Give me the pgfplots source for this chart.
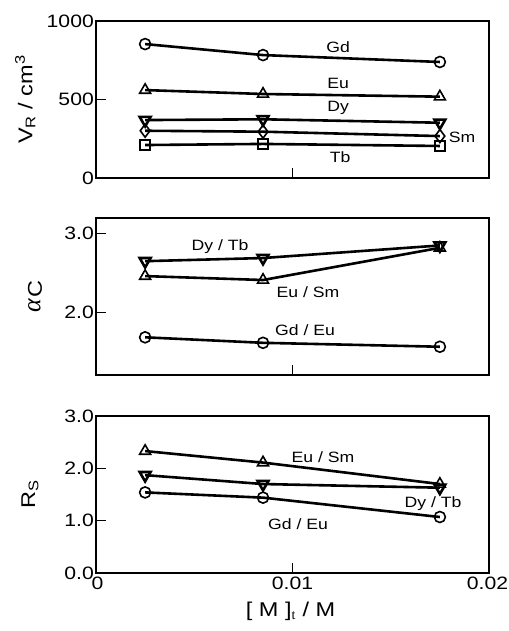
\documentclass[border=0pt]{standalone}
\usepackage{fontspec}
\setmainfont{Liberation Sans}[FakeStretch=1.18]
\newfontfamily\greekserif{Liberation Serif}
\usepackage{pgfplots}
\pgfplotsset{compat=1.18}
\newcommand{\tfont}{\fontsize{18}{18}\selectfont}
\newcommand{\lfont}{\fontsize{20}{20}\selectfont}
\pgfplotsset{
  panel/.style={
    width=393bp, height=157bp, scale only axis,
    xmin=0, xmax=0.02,
    tick align=inside, xtick pos=bottom, ytick pos=left,
    major tick length=10bp,
    axis line style={line width=1.4bp},
    every tick/.style={line width=1.4bp, black},
    yticklabel style={inner sep=2bp},
    scaled ticks=false,
    every axis plot/.append style={line width=2.6bp, black, mark options={solid, fill=white, line width=1.6bp}},
  },
}
\tikzset{lab/.style={font=\fontsize{15}{15}\selectfont, anchor=center}}
\begin{document}
\begin{tikzpicture}
\useasboundingbox (0,0) rectangle (509bp,-631bp);
% Top panel
\begin{axis}[panel, at={(96bp,-21bp)}, anchor=north west,
  ymin=0, ymax=1000, ytick={0,500,1000},
  yticklabels={\tfont 0,\tfont 500,\tfont 1000},
  xtick={0.01}, xticklabels={},
  ylabel={\lfont V\textsubscript{R} / cm\textsuperscript{3}},
  ylabel style={at={(axis description cs:-0.18,0.5)}, anchor=center},
]
\addplot[mark=o, mark size=5.5bp] coordinates {(0.0025,853) (0.0085,783) (0.0175,739)};
\addplot[mark=triangle, mark size=6.3bp] coordinates {(0.0025,560) (0.0085,535) (0.0175,518)};
\addplot[mark=triangle, mark size=6.3bp, mark options={rotate=180}] coordinates {(0.0025,369) (0.0085,374) (0.0175,352)};
\addplot[mark=diamond, mark size=6.5bp] coordinates {(0.0025,301) (0.0085,295) (0.0175,267)};
\addplot[mark=square, mark size=5bp] coordinates {(0.0025,210) (0.0085,217) (0.0175,204)};
\node[lab] at (axis cs:0.01232,834) {Gd};
\node[lab] at (axis cs:0.01232,605) {Eu};
\node[lab] at (axis cs:0.01232,446) {Dy};
\node[lab] at (axis cs:0.01863,261) {Sm};
\node[lab] at (axis cs:0.01242,134) {Tb};
\end{axis}
% Middle panel
\begin{axis}[panel, at={(96bp,-218bp)}, anchor=north west,
  ymin=1.2, ymax=3.2, ytick={2,3},
  yticklabels={\tfont 2.0,\tfont 3.0},
  xtick={0.01}, xticklabels={},
  ylabel={{\greekserif\itshape\fontsize{26}{26}\selectfont α}\,\raisebox{-0.3ex}{\lfont C}},
  ylabel style={at={(axis description cs:-0.155,0.5)}, anchor=center},
]
\addplot[mark=triangle, mark size=6.3bp, mark options={rotate=180}] coordinates {(0.0025,2.65) (0.0085,2.69) (0.0175,2.85)};
\addplot[mark=triangle, mark size=6.3bp] coordinates {(0.0025,2.46) (0.0085,2.41) (0.0175,2.82)};
\addplot[mark=o, mark size=5.5bp] coordinates {(0.0025,1.68) (0.0085,1.61) (0.0175,1.56)};
\node[lab] at (axis cs:0.00631,2.83) {Dy / Tb};
\node[lab] at (axis cs:0.01079,2.26) {Eu / Sm};
\node[lab] at (axis cs:0.01064,1.77) {Gd / Eu};
\end{axis}
% Bottom panel
\begin{axis}[panel, at={(96bp,-416bp)}, anchor=north west,
  ymin=0, ymax=3, ytick={0,1,2,3},
  yticklabels={\tfont 0.0,\tfont 1.0,\tfont 2.0,\tfont 3.0},
  xtick={0,0.01,0.02}, xticklabels={\hspace*{3bp}\tfont 0,\tfont 0.01,\tfont 0.02\hspace*{3bp}},
  ylabel={\lfont R\textsubscript{S}},
  ylabel style={at={(axis description cs:-0.168,0.5)}, anchor=center},
  xlabel={\lfont [ M ]\textsubscript{\greekserif t} / M},
  xlabel style={at={(axis description cs:0.495,-0.244)}, anchor=center},
]
\addplot[mark=triangle, mark size=6.3bp] coordinates {(0.0025,2.33) (0.0085,2.11) (0.0175,1.70)};
\addplot[mark=triangle, mark size=6.3bp, mark options={rotate=180}] coordinates {(0.0025,1.87) (0.0085,1.70) (0.0175,1.63)};
\addplot[mark=o, mark size=5.5bp] coordinates {(0.0025,1.54) (0.0085,1.44) (0.0175,1.07)};
\node[lab] at (axis cs:0.01155,2.22) {Eu / Sm};
\node[lab] at (axis cs:0.01715,1.32) {Dy / Tb};
\node[lab] at (axis cs:0.01028,0.94) {Gd / Eu};
\end{axis}
\end{tikzpicture}
\end{document}
